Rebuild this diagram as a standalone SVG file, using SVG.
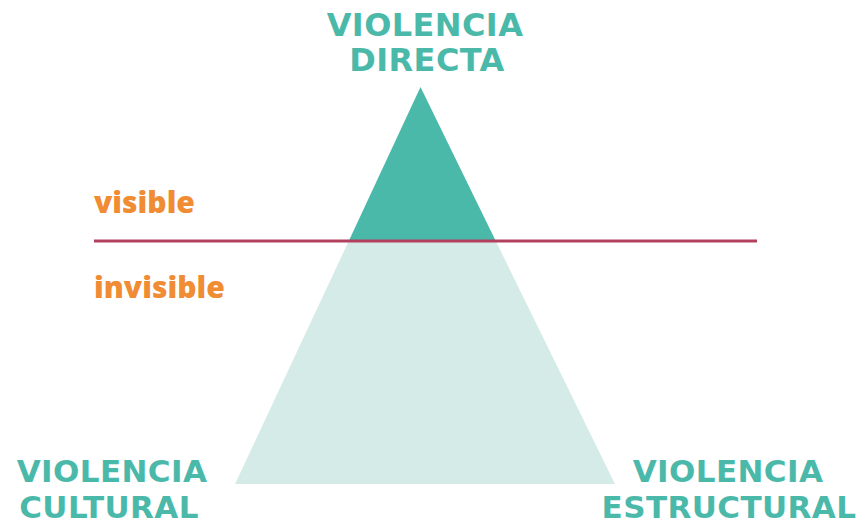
<svg xmlns="http://www.w3.org/2000/svg" width="858" height="526" viewBox="0 0 858 526">
<style>
.h{font-family:"DejaVu Sans","Liberation Sans",sans-serif;font-weight:bold;font-size:32px;fill:#4BB9AA;text-anchor:middle;letter-spacing:0.4px}
.b{font-size:31px}
.o{font-family:"Open Sans","Noto Sans",sans-serif;font-weight:800;font-size:30px;fill:#F08C34}
</style>
<rect width="858" height="526" fill="#FFFFFF"/>
<g id="triangle">
<polygon points="349,240.5 495.5,240.5 615,484 235,484" fill="#D5EBE7"/>
<polygon points="420.5,87 495.5,240.5 349,240.5" fill="#4BB9AA"/>
</g>
<g id="connectors">
<line x1="94" y1="241" x2="757" y2="241" stroke="#B2405F" stroke-width="3"/>
</g>
<g id="directa"><text class="h" x="425" y="36">VIOLENCIA</text><text class="h" x="427" y="71">DIRECTA</text></g>
<g id="cultural"><text class="h b" x="112" y="482">VIOLENCIA</text><text class="h b" x="109" y="518">CULTURAL</text></g>
<g id="estructural"><text class="h b" x="728" y="482">VIOLENCIA</text><text class="h b" x="729" y="518">ESTRUCTURAL</text></g>
<g id="visible"><text class="o" x="94" y="213">visible</text></g>
<g id="invisible"><text class="o" x="94" y="298">invisible</text></g>
</svg>
